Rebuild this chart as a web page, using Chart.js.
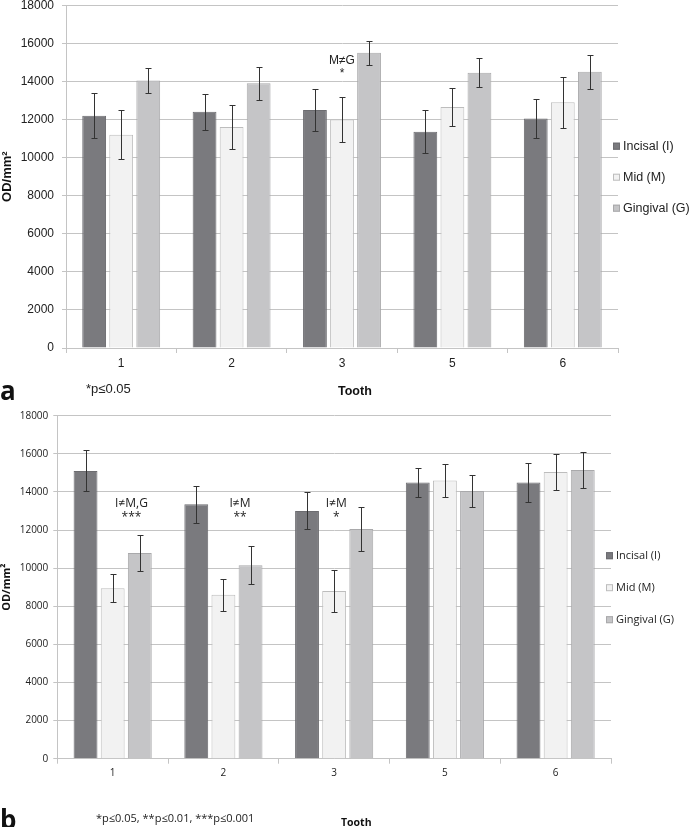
<!DOCTYPE html>
<html>
<head>
<meta charset="utf-8">
<script src="https://cdn.jsdelivr.net/npm/chart.js@4.4.0/dist/chart.umd.min.js"></script>
<style>
    html, body { margin: 0; padding: 0; background: #fff; }
    #page { position: relative; width: 689px; height: 827px; overflow: hidden; }
    canvas { position: absolute; left: 0; }
    .txt { position: absolute; white-space: nowrap; color: #222; line-height: 1; }
</style>
</head>
<body>
<div id="page">
    <canvas id="chartA" width="689" height="410" style="top:-10px"></canvas>
    <canvas id="chartB" width="689" height="427" style="top:400px"></canvas>

    <div class="txt" style="left:0px; top:372px; font:bold 26px 'Open Sans'; color:#111;">a</div>
    <div class="txt" style="left:86px; top:381px; font:13px 'Liberation Sans';">*p≤0.05</div>
    <div class="txt" style="left:338px; top:384px; font:bold 12.5px 'Liberation Sans'; color:#111;">Tooth</div>

    <div class="txt" style="left:0px; top:801px; font:bold 26px 'Open Sans'; color:#111;">b</div>
    <div class="txt" style="left:96px; top:810px; font:11px 'Open Sans';">*p≤0.05, **p≤0.01, ***p≤0.001</div>
    <div class="txt" style="left:341px; top:815px; font:bold 10.5px 'Open Sans'; color:#111;">Tooth</div>
</div>

<script>
// ---- data ----
const teeth = ['1', '2', '3', '5', '6'];
const seriesNames = ['Incisal (I)', 'Mid (M)', 'Gingival (G)'];
const yTickValues = [0, 2000, 4000, 6000, 8000, 10000, 12000, 14000, 16000, 18000];

// panel a
const incisalA = [12200, 12400, 12500, 11350, 12050];
const incisalErrA = [1180, 950, 1120, 1130, 1040];
const midA = [11200, 11600, 12000, 12650, 12900];
const midErrA = [1280, 1170, 1170, 980, 1340];
const gingivalA = [14050, 13900, 15500, 14450, 14500];
const gingivalErrA = [660, 880, 630, 760, 900];

// panel b
const incisalB = [15100, 13350, 13000, 14500, 14500];
const incisalErrB = [1075, 980, 970, 760, 1010];
const midB = [8950, 8600, 8800, 14600, 15050];
const midErrB = [735, 855, 1120, 880, 945];
const gingivalB = [10800, 10150, 12050, 14050, 15150];
const gingivalErrB = [960, 990, 1155, 840, 937];

// significance notes: tooth, text lines, level (OD/mm2)
const noteTeethA = ['3'];
const noteTextA = [['M≠G', '*']];
const noteLevelA = [15100];

const noteTeethB = ['1', '2', '3'];
const noteTextB = [['I≠M,G', '***'], ['I≠M', '**'], ['I≠M', '*']];
const noteLevelB = [13370, 13370, 13370];

// ---- styles ----
const fills = ['#7a7a7e', '#f2f2f2', '#c5c5c7'];
const borders = ['#6c6c70', '#bdbdbd', '#a9a9ab'];
const gridColor = '#c4c4c4';

// error bars drawn through the chart's own scales
const errorBarPlugin = {
    id: 'errorBars',
    afterDatasetsDraw(chart) {
        const ctx = chart.ctx;
        const yScale = chart.scales.y;
        ctx.save();
        ctx.strokeStyle = '#333';
        ctx.lineWidth = 1;
        chart.data.datasets.forEach((ds, i) => {
            const meta = chart.getDatasetMeta(i);
            meta.data.forEach((bar, j) => {
                const v = ds.data[j];
                const e = ds.errors[j];
                const x = Math.round(bar.x) + 0.5;
                const yTop = Math.round(yScale.getPixelForValue(v + e)) + 0.5;
                const yBot = Math.round(yScale.getPixelForValue(v - e)) + 0.5;
                ctx.beginPath();
                ctx.moveTo(x, yTop); ctx.lineTo(x, yBot);
                ctx.moveTo(x - 3, yTop); ctx.lineTo(x + 3, yTop);
                ctx.moveTo(x - 3, yBot); ctx.lineTo(x + 3, yBot);
                ctx.stroke();
            });
        });
        ctx.restore();
    }
};

// significance notes and the side legend
const notesPlugin = {
    id: 'notes',
    afterDraw(chart, args, opts) {
        const ctx = chart.ctx;
        const xs = chart.scales.x;
        const ys = chart.scales.y;
        const catW = xs.width / teeth.length;
        ctx.save();
        ctx.fillStyle = '#222';
        ctx.textAlign = 'center';
        ctx.textBaseline = 'middle';
        ctx.font = opts.noteFont;
        opts.teeth.forEach((t, k) => {
            const x = xs.getPixelForValue(teeth.indexOf(t)) + opts.shift[k] * catW;
            const y = ys.getPixelForValue(opts.levels[k]);
            ctx.fillText(opts.texts[k][0], x, y);
            ctx.fillText(opts.texts[k][1], x, y + opts.lineGap);
        });

        // legend, placed against the plot area
        ctx.textAlign = 'left';
        ctx.font = opts.legendFont;
        const lx = chart.chartArea.right - 5;
        chart.data.datasets.forEach((ds, i) => {
            const ly = chart.chartArea.top + opts.legendTop + i * opts.legendStep;
            ctx.fillStyle = ds.backgroundColor;
            ctx.fillRect(lx, ly - 3.5, 7, 7);
            ctx.strokeStyle = ds.borderColor;
            ctx.lineWidth = 1;
            ctx.strokeRect(lx + 0.5, ly - 3, 6, 6);
            ctx.fillStyle = '#222';
            ctx.fillText(ds.label, lx + 10, ly);
        });
        ctx.restore();
    }
};

const makeChart = (id, series, errs, setup) => {
    const datasets = series.map((vals, i) => ({
        label: seriesNames[i],
        data: vals,
        errors: errs[i],
        backgroundColor: fills[i],
        borderColor: borders[i],
        borderWidth: 1,
        categoryPercentage: 0.735,
        barPercentage: 0.88
    }));

    return new Chart(document.getElementById(id), {
        type: 'bar',
        data: { labels: teeth, datasets: datasets },
        options: {
            responsive: false,
            animation: false,
            layout: { padding: setup.padding },
            plugins: {
                legend: { display: false },
                tooltip: { enabled: false },
                notes: setup.notes
            },
            scales: {
                x: {
                    afterFit: (s) => { s.height = setup.xHeight; },
                    grid: {
                        offset: true,
                        drawOnChartArea: false,
                        drawTicks: true,
                        tickLength: 5,
                        color: gridColor
                    },
                    border: { color: gridColor },
                    ticks: {
                        color: '#222',
                        padding: setup.xPad,
                        font: setup.tickFont
                    }
                },
                y: {
                    min: 0,
                    max: 18000,
                    afterFit: (s) => { s.width = setup.yWidth; },
                    afterBuildTicks: (s) => { s.ticks = yTickValues.map(v => ({ value: v })); },
                    grid: { color: gridColor, tickLength: 4 },
                    border: { color: gridColor },
                    ticks: {
                        color: '#222',
                        padding: setup.yPad,
                        font: setup.tickFont,
                        callback: (v) => String(v)
                    },
                    title: {
                        display: true,
                        text: 'OD/mm²',
                        color: '#111',
                        padding: { top: 0, bottom: 0 },
                        font: setup.titleFont
                    }
                }
            }
        },
        plugins: [errorBarPlugin, notesPlugin]
    });
};

makeChart('chartA', [incisalA, midA, gingivalA], [incisalErrA, midErrA, gingivalErrA], {
    padding: { top: 15, right: 71, bottom: 0, left: 0 },
    xHeight: 52,
    yWidth: 66,
    xPad: 3,
    yPad: 8,
    tickFont: { family: 'Liberation Sans', size: 12 },
    titleFont: { family: 'Liberation Sans', size: 13, weight: 'bold' },
    notes: {
        teeth: noteTeethA, texts: noteTextA, levels: noteLevelA, shift: [0],
        lineGap: 13,
        noteFont: '12px "Liberation Sans"',
        legendFont: '12.5px "Liberation Sans"',
        legendTop: 141, legendStep: 31
    }
});

makeChart('chartB', [incisalB, midB, gingivalB], [incisalErrB, midErrB, gingivalErrB], {
    padding: { top: 15.7, right: 78, bottom: 0, left: 0 },
    xHeight: 68.3,
    yWidth: 57.3,
    xPad: 3,
    yPad: 5,
    tickFont: { family: 'Open Sans', size: 10 },
    titleFont: { family: 'Open Sans', size: 11, weight: 'bold' },
    notes: {
        teeth: noteTeethB, texts: noteTextB, levels: noteLevelB, shift: [0.17, 0.15, 0.02],
        lineGap: 14,
        noteFont: '12px "Open Sans"',
        legendFont: '11px "Open Sans"',
        legendTop: 140, legendStep: 32
    }
});
</script>
</body>
</html>
